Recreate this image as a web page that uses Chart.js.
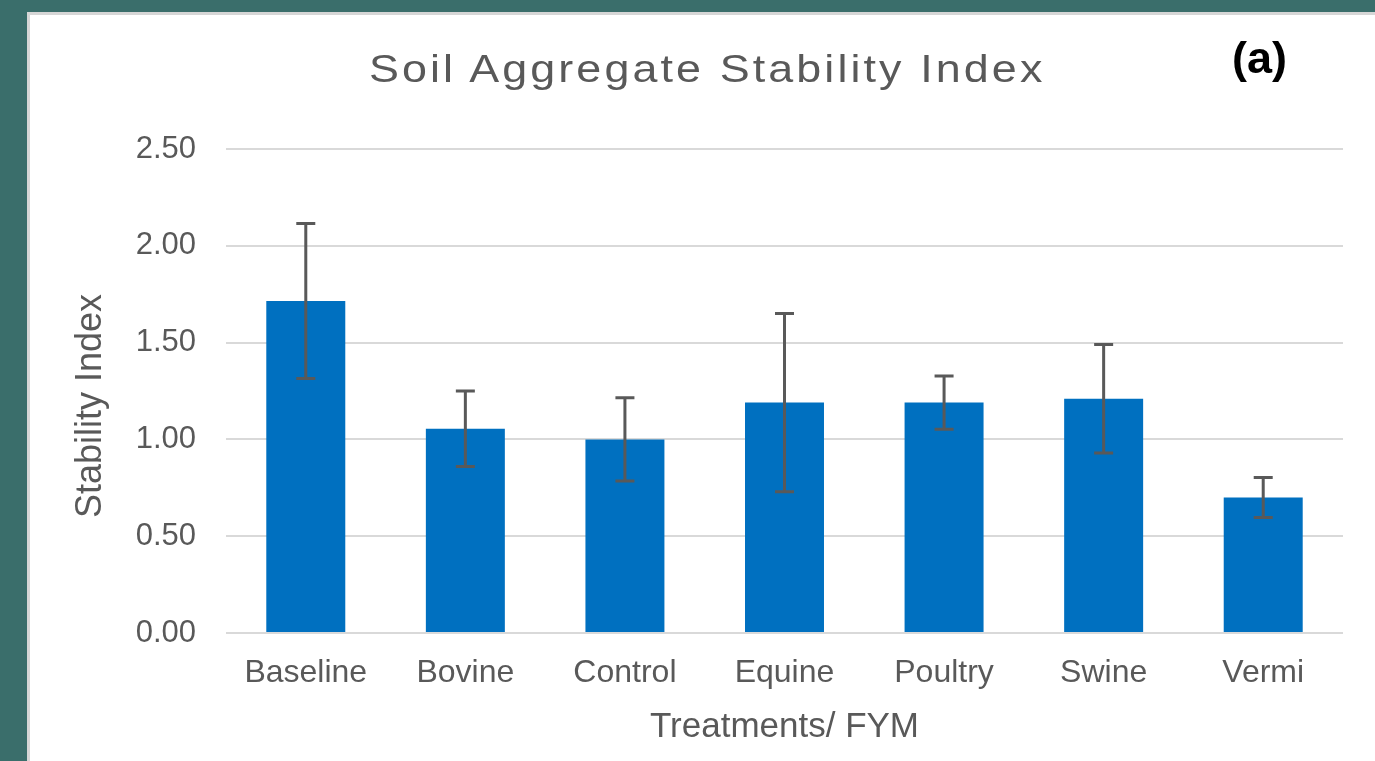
<!DOCTYPE html>
<html>
<head>
<meta charset="utf-8">
<script src="https://cdn.jsdelivr.net/npm/chart.js"></script>
<style>
  html, body { margin: 0; padding: 0; width: 1375px; height: 761px; overflow: hidden; background: #3a6e6b; }
  #panel { position: absolute; left: 27px; top: 12px; width: 1400px; height: 800px; background: #fff; border-left: 3px solid #d6d6d6; border-top: 3px solid #d6d6d6; }
  #chart { position: absolute; left: 30px; top: 15px; }
  #title { position: absolute; left: 0; width: 1415px; top: 49px; text-align: center; font: 39px "Liberation Sans", Arial, sans-serif; line-height: 39px; color: #595959; }
  #title span { display: inline-block; transform: scaleX(1.15); transform-origin: center; letter-spacing: 2.7px; }
  #tag { position: absolute; left: 1232px; top: 35px; font: bold 45px "Liberation Sans", Arial, sans-serif; line-height: 45px; color: #000; }
</style>
</head>
<body>
<div id="panel"></div>
<canvas id="chart" width="1356" height="746"></canvas>
<div id="title"><span>Soil Aggregate Stability Index</span></div>
<div id="tag">(a)</div>
<script>
  const treatments = ["Baseline", "Bovine", "Control", "Equine", "Poultry", "Swine", "Vermi"];
  const stabilityIndex = [1.715, 1.055, 1.00, 1.19, 1.19, 1.21, 0.70];
  const stdError = [0.40, 0.195, 0.215, 0.46, 0.137, 0.28, 0.103];
  const yTicks = [0, 0.5, 1.0, 1.5, 2.0, 2.5];

  const textColor = "#595959";
  const fontFamily = '"Liberation Sans", Arial, sans-serif';

  // draws the error whiskers on top of each bar
  const errorBars = {
    id: "errorBars",
    afterDatasetsDraw(chart) {
      const ctx = chart.ctx;
      const yScale = chart.scales.y;
      const meta = chart.getDatasetMeta(0);
      ctx.save();
      ctx.strokeStyle = "#595959";
      ctx.lineWidth = 3;
      meta.data.forEach((bar, i) => {
        const v = stabilityIndex[i];
        const e = stdError[i];
        const top = yScale.getPixelForValue(v + e);
        const bottom = yScale.getPixelForValue(v - e);
        const x = bar.x;
        ctx.beginPath();
        ctx.moveTo(x, top);
        ctx.lineTo(x, bottom);
        ctx.moveTo(x - 9.5, top);
        ctx.lineTo(x + 9.5, top);
        ctx.moveTo(x - 9.5, bottom);
        ctx.lineTo(x + 9.5, bottom);
        ctx.stroke();
      });
      ctx.restore();
    },
  };

  new Chart(document.getElementById("chart"), {
    type: "bar",
    data: {
      labels: treatments,
      datasets: [{
        data: stabilityIndex,
        backgroundColor: "#0070c0",
        borderWidth: 0,
        barPercentage: 0.495,
        categoryPercentage: 1,
      }],
    },
    options: {
      responsive: false,
      animation: false,
      layout: { padding: { top: 134, right: 43, left: 0, bottom: 0 } },
      plugins: {
        legend: { display: false },
        tooltip: { enabled: false },
        title: { display: false },
      },
      scales: {
        x: {
          grid: { display: false, drawTicks: false },
          border: { display: false },
          ticks: { color: textColor, padding: 21, font: { family: fontFamily, size: 32 } },
          title: {
            display: true,
            text: "Treatments/ FYM",
            color: textColor,
            font: { family: fontFamily, size: 35 },
            padding: { top: 0, bottom: 13 },
          },
          afterFit: (s) => { s.height = 128; },
        },
        y: {
          min: 0,
          max: 2.5,
          afterBuildTicks: (s) => { s.ticks = yTicks.map((v) => ({ value: v })); },
          grid: { color: "#d9d9d9", lineWidth: 2, drawTicks: false },
          border: { display: false },
          ticks: {
            color: textColor,
            padding: 30,
            font: { family: fontFamily, size: 31 },
            callback: (v) => Number(v).toFixed(2),
          },
          title: {
            display: true,
            // trailing spaces nudge the rotated label down to match the reference
            text: "Stability Index   ",
            color: textColor,
            font: { family: fontFamily, size: 36 },
            padding: { top: 39, bottom: 0 },
          },
          afterFit: (s) => { s.width = 196; },
        },
      },
    },
    plugins: [errorBars],
  });
</script>
</body>
</html>
